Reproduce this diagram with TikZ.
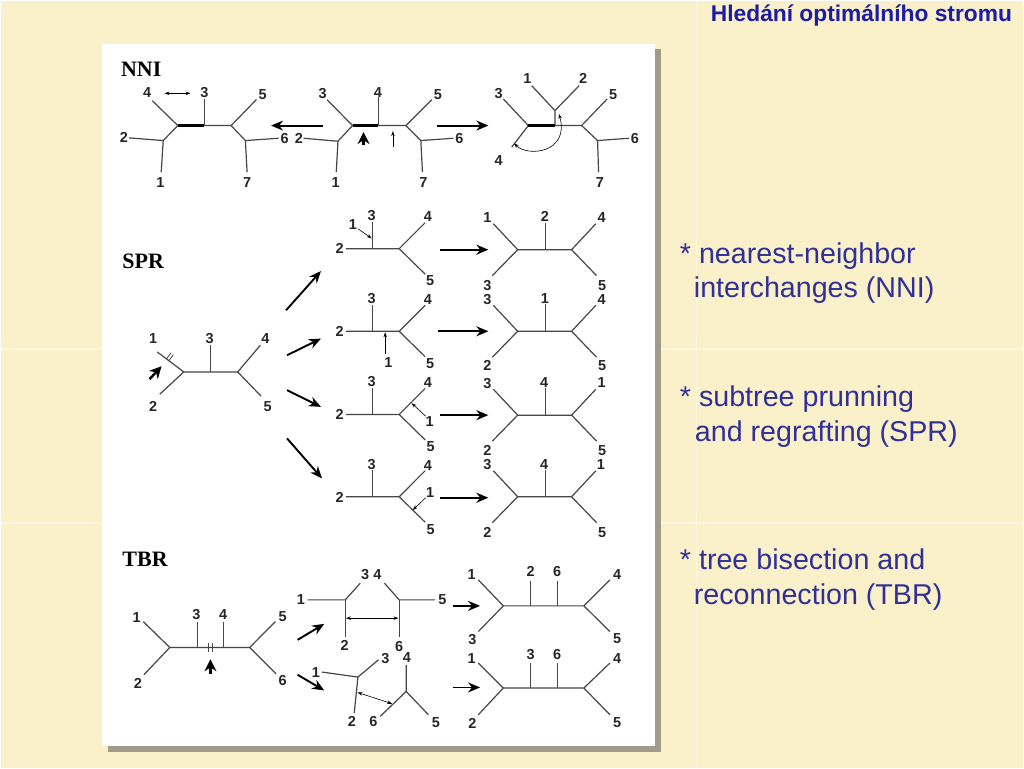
\documentclass[tikz,border=0pt]{standalone}
\usepackage{fontspec}
\setmainfont{Liberation Serif}
\setsansfont{Liberation Sans}
\usetikzlibrary{arrows.meta}
\definecolor{slide}{RGB}{250,240,202}
\definecolor{seam}{RGB}{253,247,224}
\definecolor{shadow}{RGB}{160,155,138}
\definecolor{branch}{RGB}{70,70,70}
\definecolor{titleblue}{RGB}{28,28,165}
\definecolor{textblue}{RGB}{48,48,150}

\begin{document}
\begin{tikzpicture}[x=1pt,y=-1pt]
        \tikzset{br/.style={draw=branch, line width=1.2pt}}
        \tikzset{thk/.style={draw=black, line width=2.8pt}}
        \tikzset{lbl/.style={font=\sffamily\bfseries\fontsize{14.5}{16}\selectfont, text=black!85, inner sep=0pt}}
        \tikzset{sect/.style={font=\rmfamily\bfseries\fontsize{22}{24}\selectfont, inner sep=0pt, anchor=west}}
        \tikzset{bigarr/.style={line width=1.9pt, -{Stealth[length=12pt,width=10pt]}}}
        \tikzset{smarr/.style={line width=0.6pt, -{Stealth[length=5pt,width=3.5pt]}}}
        \tikzset{dblarr/.style={line width=0.6pt, {Stealth[length=5pt,width=3.5pt]}-{Stealth[length=5pt,width=3.5pt]}}}
        \tikzset{boldhead/.style={line width=2.4pt, -{Stealth[length=12pt,width=12pt]}}}
        \tikzset{remark/.style={font=\sffamily\fontsize{28.7}{31}\selectfont, text=textblue, inner sep=0pt, anchor=base west}}

        % slide background and panel
        \fill[slide] (0,0) rectangle (1024,768);
        \draw[seam, line width=1.5pt] (0,349) -- (1024,349) (0,523) -- (1024,523) (697,0) -- (697,768);
        \fill[shadow] (107,48) rectangle (661,752);
        \fill[white] (101,43) rectangle (655,746);

        \node[font=\sffamily\bfseries\fontsize{22.8}{25}\selectfont, text=titleblue, inner sep=0pt, anchor=base west] (title) at (711,20.7) {Hledání optimálního stromu};

        \node[remark] (r1) at (680,263) {* nearest-neighbor};
        \node[remark] (r2) at (694,297) {interchanges (NNI)};
        \node[remark] (r3) at (680,406) {* subtree prunning};
        \node[remark] (r4) at (695,441) {and regrafting (SPR)};
        \node[remark] (r5) at (680,570) {* tree bisection and};
        \node[remark] (r6) at (694,605) {reconnection (TBR)};

        % NNI
        \node[sect] (nni) at (120.3,68.3) {NNI};

        \coordinate (naA) at (177.3,125);
        \coordinate (naB) at (204,125);
        \coordinate (naC) at (230.7,125);
        \coordinate (naD) at (162.7,140);
        \coordinate (naE) at (245,140);
        \draw[br] (151.7,100) -- (naA) -- (naD) -- (128.3,137.3);
        \draw[br] (naD) -- (160.7,171.7);
        \draw[br] (naB) -- (204,98.3);
        \draw[br] (naB) -- (naC) -- (256,99);
        \draw[br] (naC) -- (naE) -- (278.3,137.7);
        \draw[br] (naE) -- (246.7,171.7);
        \draw[thk] (naA) -- (naB);
        \node[lbl] (na4) at (146.7,92.3) {4};
        \node[lbl] (na3) at (204,91.7) {3};
        \node[lbl] (na5) at (262.3,94) {5};
        \node[lbl] (na2) at (123.3,137.3) {2};
        \node[lbl] (na1) at (160,181.7) {1};
        \node[lbl] (na6) at (284.3,137.7) {6};
        \node[lbl] (na7) at (246.7,181.7) {7};
        \draw[dblarr] (164,92.7) -- (190,92.7);

        \coordinate (nbA) at (352.3,125);
        \coordinate (nbB) at (378.3,125);
        \coordinate (nbC) at (405.7,125);
        \coordinate (nbD) at (337.7,140.7);
        \coordinate (nbE) at (420.7,140);
        \draw[br] (326.7,99) -- (nbA) -- (nbD) -- (303.3,137.7);
        \draw[br] (nbD) -- (336,171.7);
        \draw[br] (nbB) -- (378.3,96.7);
        \draw[br] (nbB) -- (nbC) -- (431.7,99);
        \draw[br] (nbC) -- (nbE) -- (453.3,137.7);
        \draw[br] (nbE) -- (422.3,171.7);
        \draw[thk] (nbA) -- (nbB);
        \node[lbl] (nb3) at (322.3,92.7) {3};
        \node[lbl] (nb2) at (298.7,137.7) {2};
        \node[lbl] (nb1) at (335.3,181.7) {1};
        \node[lbl] (nb4) at (377.7,91.7) {4};
        \node[lbl] (nb5) at (437.7,94.3) {5};
        \node[lbl] (nb6) at (459.3,137.7) {6};
        \node[lbl] (nb7) at (423.3,181.7) {7};
        \draw[boldhead] (363.3,144) -- (363.3,131.5);
        \draw[smarr] (392.7,146.7) -- (392.7,130.5);

        \coordinate (ncA) at (528.3,125);
        \coordinate (ncB) at (555,125);
        \coordinate (ncF) at (555,110);
        \coordinate (ncC) at (581.7,125);
        \coordinate (ncE) at (597.7,140);
        \draw[br] (503.3,98.3) -- (ncA) -- (511.7,146.7);
        \draw[br] (ncB) -- (ncF) -- (531.7,85);
        \draw[br] (ncF) -- (579.3,85);
        \draw[br] (ncB) -- (ncC) -- (607.3,98.3);
        \draw[br] (ncC) -- (ncE) -- (629.3,137.7);
        \draw[br] (ncE) -- (598.7,171.7);
        \draw[thk] (ncA) -- (ncB);
        \node[lbl] (nc3) at (498.7,92.7) {3};
        \node[lbl] (nc4) at (498.7,160) {4};
        \node[lbl] (nc1) at (527.3,78.3) {1};
        \node[lbl] (nc2) at (583.3,78.3) {2};
        \node[lbl] (nc5) at (613.3,94) {5};
        \node[lbl] (nc6) at (635,137.7) {6};
        \node[lbl] (nc7) at (600,181.7) {7};
        \draw[dblarr] (514,142.7) .. controls (528,157) and (570,152) .. (559,113.3);

        \draw[bigarr] (322.7,125) -- (270.7,125);
        \draw[bigarr] (436.7,125) -- (488.3,125);

        % SPR
        \node[sect] (spr) at (121.7,260.8) {SPR};

        \coordinate (s0A) at (183.3,371.7);
        \coordinate (s0B) at (210,371.7);
        \coordinate (s0C) at (237.3,371.7);
        \draw[br] (156.7,351.7) -- (s0A) -- (159.3,394);
        \draw[br] (s0A) -- (s0C) -- (260,345);
        \draw[br] (s0B) -- (210,345);
        \draw[br] (s0C) -- (260.7,396);
        \draw[branch, line width=0.8pt] (168.1,360.8) -- (172.9,354.4) (165.7,359) -- (170.5,352.6);
        \node[lbl] (s01) at (152.7,338.3) {1};
        \node[lbl] (s02) at (152.7,406) {2};
        \node[lbl] (s03) at (209.3,338.3) {3};
        \node[lbl] (s04) at (265,338.3) {4};
        \node[lbl] (s05) at (267.3,406.7) {5};
        \draw[boldhead] (149,379) -- (161,366);

        \draw[bigarr] (285.7,310) -- (320.7,270.7);
        \draw[bigarr] (286.7,355) -- (320.7,338.3);
        \draw[bigarr] (286.7,390) -- (320.7,406.7);
        \draw[bigarr] (286.7,438.3) -- (321.7,478.3);

        \coordinate (s1B) at (372.3,248.3);
        \coordinate (s1C) at (399,248.3);
        \draw[br] (346,248.3) -- (s1C) -- (425,222.3);
        \draw[br] (s1B) -- (372.3,221.7);
        \draw[br] (s1C) -- (425,273.8);
        \node[lbl] (s12) at (339.3,248.3) {2};
        \node[lbl] (s13) at (371.5,215.5) {3};
        \node[lbl] (s14) at (427.7,216.3) {4};
        \node[lbl] (s15) at (430,280.3) {5};
        \node[lbl] (s11) at (352.7,224) {1};
        \draw[smarr] (358,228.5) -- (371.5,238);

        \coordinate (s2B) at (372.3,331);
        \coordinate (s2C) at (399,331);
        \draw[br] (346,331) -- (s2C) -- (425,305);
        \draw[br] (s2B) -- (372.3,304.4);
        \draw[br] (s2C) -- (425,356.5);
        \node[lbl] (s22) at (339.3,331) {2};
        \node[lbl] (s23) at (371.5,298.2) {3};
        \node[lbl] (s24) at (427.7,299) {4};
        \node[lbl] (s25) at (430,363) {5};
        \node[lbl] (s21) at (388.3,362.3) {1};
        \draw[smarr] (385,354) -- (385,332);

        \coordinate (s3B) at (372.3,414.3);
        \coordinate (s3C) at (399,414.3);
        \draw[br] (346,414.3) -- (s3C) -- (425,388.3);
        \draw[br] (s3B) -- (372.3,387.7);
        \draw[br] (s3C) -- (425,439.8);
        \node[lbl] (s32) at (339.3,414.3) {2};
        \node[lbl] (s33) at (371.5,381.5) {3};
        \node[lbl] (s34) at (427.7,382.3) {4};
        \node[lbl] (s35) at (430.5,446.5) {5};
        \node[lbl] (s31) at (429.5,421.7) {1};
        \draw[smarr] (425.5,416) -- (411.5,403);

        \coordinate (s4B) at (372.3,496.7);
        \coordinate (s4C) at (399,496.7);
        \draw[br] (346,496.7) -- (s4C) -- (425,470.7);
        \draw[br] (s4B) -- (372.3,470.1);
        \draw[br] (s4C) -- (425,522.2);
        \node[lbl] (s42) at (339.3,497.2) {2};
        \node[lbl] (s43) at (371.5,464) {3};
        \node[lbl] (s44) at (427.7,465.5) {4};
        \node[lbl] (s45) at (430.5,529.3) {5};
        \node[lbl] (s41) at (430,492.7) {1};
        \draw[smarr] (425.5,497.7) -- (412.7,510);

        \draw[bigarr] (440,249.3) -- (488.3,249.3);
        \draw[bigarr] (438.3,331) -- (488.3,331);
        \draw[bigarr] (440,415) -- (488.3,415);
        \draw[bigarr] (440,497.7) -- (488.3,497.7);

        \coordinate (r1A) at (517.7,249.3);
        \coordinate (r1B) at (545.5,249.3);
        \coordinate (r1C) at (571.7,249.3);
        \draw[br] (493.3,223.3) -- (r1A) -- (492.3,275.3);
        \draw[br] (r1A) -- (r1C) -- (596,223.3);
        \draw[br] (r1B) -- (545.5,222.3);
        \draw[br] (r1C) -- (596.7,275.3);
        \node[lbl] (r11) at (487.3,217.3) {1};
        \node[lbl] (r13) at (487.3,285) {3};
        \node[lbl] (r12) at (545,216) {2};
        \node[lbl] (r14) at (601.7,217.3) {4};
        \node[lbl] (r15) at (602.3,285) {5};

        \coordinate (r2A) at (517.7,331);
        \coordinate (r2B) at (545.5,331);
        \coordinate (r2C) at (571.7,331);
        \draw[br] (493.3,305) -- (r2A) -- (492.3,357);
        \draw[br] (r2A) -- (r2C) -- (596,305);
        \draw[br] (r2B) -- (545.5,304);
        \draw[br] (r2C) -- (596.7,357);
        \node[lbl] (r23) at (487.3,299) {3};
        \node[lbl] (r22) at (487.3,365.7) {2};
        \node[lbl] (r21) at (545,298.5) {1};
        \node[lbl] (r24) at (601.7,299) {4};
        \node[lbl] (r25) at (602.3,365.7) {5};

        \coordinate (r3A) at (517.7,415);
        \coordinate (r3B) at (545.5,415);
        \coordinate (r3C) at (571.7,415);
        \draw[br] (493.3,389) -- (r3A) -- (492.3,441);
        \draw[br] (r3A) -- (r3C) -- (596,389);
        \draw[br] (r3B) -- (545.5,388);
        \draw[br] (r3C) -- (596.7,441);
        \node[lbl] (r33) at (487.3,383) {3};
        \node[lbl] (r32) at (487.3,450) {2};
        \node[lbl] (r34) at (544.3,382.5) {4};
        \node[lbl] (r31) at (601.7,382.7) {1};
        \node[lbl] (r35) at (602.3,450) {5};

        \coordinate (r4A) at (517.7,496.7);
        \coordinate (r4B) at (545.5,496.7);
        \coordinate (r4C) at (571.7,496.7);
        \draw[br] (493.3,470.7) -- (r4A) -- (492.3,522.7);
        \draw[br] (r4A) -- (r4C) -- (596,470.7);
        \draw[br] (r4B) -- (545.5,469.7);
        \draw[br] (r4C) -- (596.7,522.7);
        \node[lbl] (r43) at (487.3,464.7) {3};
        \node[lbl] (r42) at (487.3,532.7) {2};
        \node[lbl] (r44) at (544.3,464) {4};
        \node[lbl] (r41) at (601,464) {1};
        \node[lbl] (r45) at (602.3,532.7) {5};

        % TBR
        \node[sect] (tbr) at (121.7,559.2) {TBR};

        \coordinate (t0A) at (169.3,647.7);
        \coordinate (t0B) at (196.7,647.7);
        \coordinate (t0C) at (223.3,647.7);
        \coordinate (t0D) at (249.3,647.7);
        \draw[br] (142.7,621.7) -- (t0A) -- (143.3,675);
        \draw[br] (t0A) -- (t0D) -- (275,621.7);
        \draw[br] (t0D) -- (275.7,674);
        \draw[br] (t0B) -- (196.7,621.7);
        \draw[br] (t0C) -- (223.3,621.7);
        \draw[branch, line width=0.8pt] (208.3,643.5) -- (208.3,651.9) (211.7,643.5) -- (211.7,651.9);
        \node[lbl] (t01) at (136,617.3) {1};
        \node[lbl] (t02) at (137.3,683.3) {2};
        \node[lbl] (t03) at (196,615) {3};
        \node[lbl] (t04) at (222.7,615) {4};
        \node[lbl] (t05) at (282.3,616.7) {5};
        \node[lbl] (t06) at (282.3,680.7) {6};
        \draw[boldhead] (210,674) -- (210,659.5);

        \draw[bigarr] (297.3,640) -- (324,624);
        \draw[bigarr] (297.3,675) -- (324,690.7);

        \coordinate (tuA) at (345,600);
        \coordinate (tuB) at (399,600);
        \draw[br] (307.3,600) -- (tuA) -- (360,583.3);
        \draw[br] (tuA) -- (345,637);
        \draw[br] (384.3,583.3) -- (tuB) -- (435,600);
        \draw[br] (tuB) -- (399,637);
        \node[lbl] (tu1) at (300.7,600) {1};
        \node[lbl] (tu3) at (365,574.3) {3};
        \node[lbl] (tu2) at (344.3,646) {2};
        \node[lbl] (tu4) at (377.3,574.3) {4};
        \node[lbl] (tu5) at (442.3,600) {5};
        \node[lbl] (tu6) at (399,647) {6};
        \draw[dblarr] (345.7,618.3) -- (398.3,618.3);

        \coordinate (tlA) at (357.7,677.3);
        \coordinate (tlB) at (406,691.7);
        \draw[br] (321.7,672.3) -- (tlA) -- (378.3,660);
        \draw[br] (tlA) -- (354,713.3);
        \draw[br] (406,665) -- (tlB) -- (428.3,715);
        \draw[br] (tlB) -- (380,716.7);
        \node[lbl] (tl1) at (315.7,672.3) {1};
        \node[lbl] (tl3) at (385.3,659) {3};
        \node[lbl] (tl2) at (351.7,721.7) {2};
        \node[lbl] (tl4) at (406.7,657.3) {4};
        \node[lbl] (tl5) at (435.7,723.3) {5};
        \node[lbl] (tl6) at (373.3,721.7) {6};
        \draw[dblarr] (357.3,692.7) -- (392,704);

        \draw[bigarr] (452.7,606) -- (480,606);
        \draw[bigarr] (452.7,687.7) -- (480,687.7);

        \coordinate (ruA) at (503.3,606);
        \coordinate (ruB) at (530.7,606);
        \coordinate (ruC) at (557.3,606);
        \coordinate (ruD) at (584,606);
        \draw[br] (478.3,580) -- (ruA) -- (478.3,631.7);
        \draw[br] (ruA) -- (ruD) -- (610,580);
        \draw[br] (ruD) -- (610,631.7);
        \draw[br] (ruB) -- (530.7,580.7);
        \draw[br] (ruC) -- (557.3,580.7);
        \node[lbl] (ru1) at (471.7,575) {1};
        \node[lbl] (ru3) at (472.3,640) {3};
        \node[lbl] (ru2) at (530.7,571.7) {2};
        \node[lbl] (ru6) at (557.3,571.7) {6};
        \node[lbl] (ru4) at (617.3,575) {4};
        \node[lbl] (ru5) at (617.3,639) {5};

        \coordinate (rlA) at (503.3,688.3);
        \coordinate (rlB) at (530.7,688.3);
        \coordinate (rlC) at (557.3,688.3);
        \coordinate (rlD) at (584,688.3);
        \draw[br] (478.3,663.3) -- (rlA) -- (478.3,715);
        \draw[br] (rlA) -- (rlD) -- (610,663.3);
        \draw[br] (rlD) -- (610,715);
        \draw[br] (rlB) -- (530.7,663.3);
        \draw[br] (rlC) -- (557.3,663.3);
        \node[lbl] (rl1) at (471.7,658.3) {1};
        \node[lbl] (rl2) at (472.3,723.3) {2};
        \node[lbl] (rl3) at (530.7,655) {3};
        \node[lbl] (rl6) at (557.3,655) {6};
        \node[lbl] (rl4) at (617.3,658.3) {4};
        \node[lbl] (rl5) at (617.3,722.7) {5};
\end{tikzpicture}
\end{document}
